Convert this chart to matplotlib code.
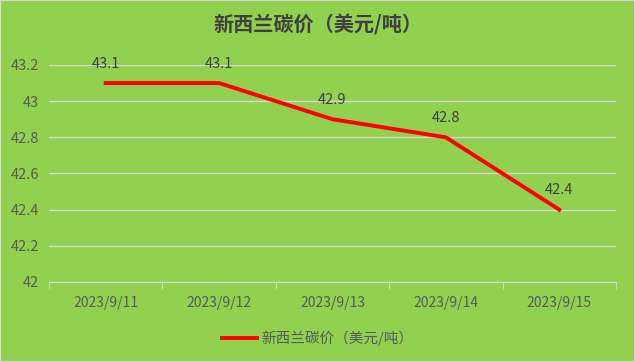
import matplotlib.pyplot as plt
import numpy as np

plt.rcParams['font.family'] = ['Noto Sans CJK SC', 'DejaVu Sans']

dates = ['2023/9/11', '2023/9/12', '2023/9/13', '2023/9/14', '2023/9/15']
prices = [43.1, 43.1, 42.9, 42.8, 42.4]
series_name = '新西兰碳价（美元/吨）'
yticks = [42, 42.2, 42.4, 42.6, 42.8, 43, 43.2]
ytick_labels = ['42', '42.2', '42.4', '42.6', '42.8', '43', '43.2']

bg = '#92D050'
fig = plt.figure(figsize=(6.35, 3.62), dpi=100, facecolor=bg)
ax = fig.add_axes([49 / 635, 1 - 282 / 362, (616 - 49) / 635, (282 - 65) / 362])
ax.set_facecolor(bg)

x = np.arange(len(dates))
line, = ax.plot(x, prices, color='#FF0000', linewidth=2.8, label=series_name)
for xi, v in zip(x, prices):
    ax.annotate(f'{v}', (xi, v), xytext=(0, 9), textcoords='offset points',
                ha='center', va='bottom', fontsize=10.5, color='#404040')

ax.set_xlim(-0.5, len(dates) - 0.5)
ax.set_ylim(42, 43.2)
ax.set_yticks(yticks)
ax.set_yticklabels(ytick_labels)
ax.set_xticks(x)
ax.set_xticklabels(dates)
ax.set_xticks(np.arange(-0.5, len(dates), 1), minor=True)
ax.tick_params(axis='x', which='major', length=0, pad=10, labelsize=10, labelcolor='#595959')
ax.tick_params(axis='x', which='minor', length=5, color='#D9D9D9', direction='out')
ax.tick_params(axis='y', length=0, pad=7, labelsize=10.5, labelcolor='#595959')

ax.grid(axis='y', color='#D9D9D9', linewidth=1)
for s in ['top', 'right', 'left']:
    ax.spines[s].set_visible(False)
ax.spines['bottom'].set_color('#D9D9D9')
ax.set_axisbelow(True)

fig.text(0.5, 1 - 25 / 362, series_name, ha='center', va='center',
         fontsize=14.5, fontweight='bold', color='#404040')

fig.legend(handles=[line], loc='center', bbox_to_anchor=(0.5, 1 - 338 / 362),
           frameon=False, fontsize=10.5, labelcolor='#595959', handlelength=2.4,
           handletextpad=0.3)

fig.patches.append(plt.Rectangle((0, 0), 1, 1, transform=fig.transFigure,
                                 fill=False, edgecolor='#D9D9D9', linewidth=1.5))

fig.savefig('out.png', dpi=100, facecolor=bg)
